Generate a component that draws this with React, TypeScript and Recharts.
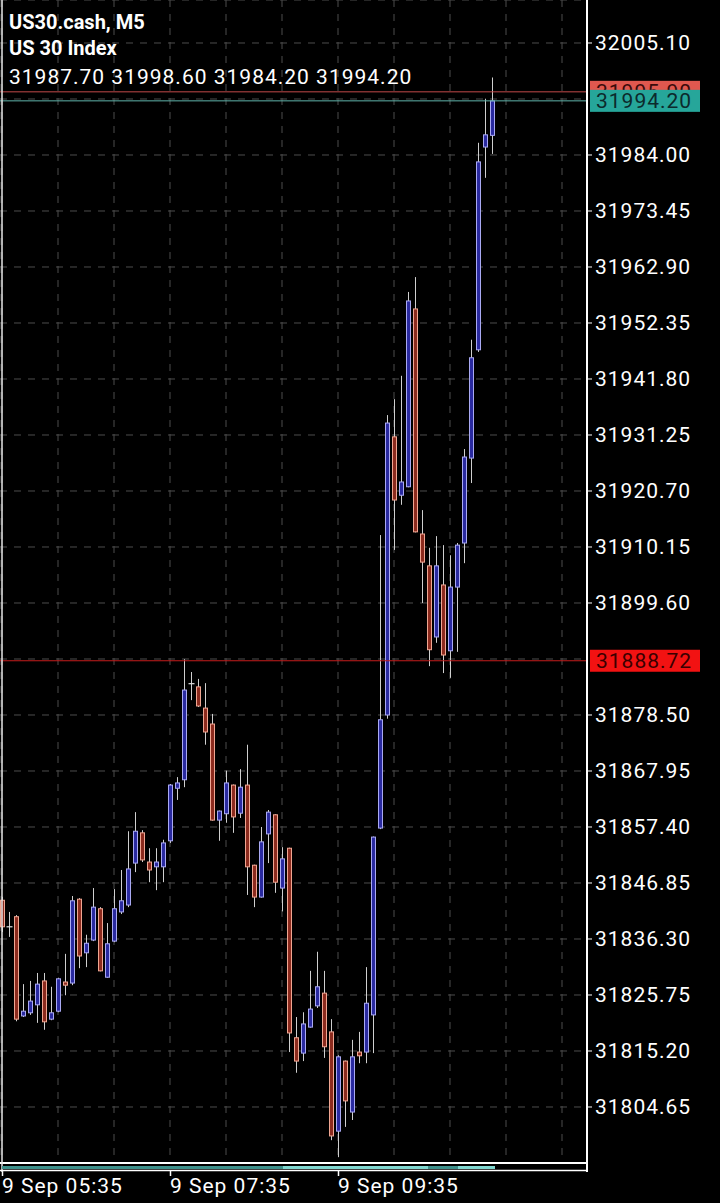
import React from "react";
import {
  ComposedChart,
  Bar,
  XAxis,
  YAxis,
  CartesianGrid,
  ReferenceLine,
} from "recharts";

// US30.cash M5 candles, 9 Sep 05:35 .. 11:25

const opens = [
  31843.6, 31838.4, 31840.5, 31821.8, 31822.4, 31823.9, 31828.4, 31821.2, 31822.7, 31828.2,
  31828.0, 31843.8, 31833.7, 31836.1, 31842.0, 31829.1, 31835.9, 31841.4, 31842.7, 31850.6,
  31856.3, 31850.8, 31849.9, 31849.9, 31854.8, 31864.7, 31866.3, 31884.2, 31883.8, 31879.8,
  31876.8, 31858.7, 31859.9, 31865.3, 31860.0, 31865.3, 31850.2, 31844.2, 31856.1, 31859.7,
  31845.9, 31853.4, 31817.7, 31814.8, 31819.7, 31823.7, 31826.1, 31818.8, 31800.1, 31813.3,
  31803.7, 31815.0, 31815.0, 31822.0, 31857.2, 31878.5, 31930.9, 31919.9, 31921.5, 31955.0,
  31912.6, 31906.6, 31893.2, 31903.0, 31890.6, 31902.6, 31910.9, 31926.9, 31947.3, 31985.5,
  31987.7,
];

const highs = [
  31844.2, 31841.4, 31840.8, 31827.8, 31828.4, 31829.9, 31829.9, 31827.3, 31829.0, 31833.5,
  31844.4, 31844.0, 31837.1, 31845.9, 31842.3, 31839.3, 31845.7, 31849.3, 31856.6, 31860.2,
  31856.8, 31853.4, 31853.4, 31855.0, 31865.5, 31866.8, 31889.0, 31886.6, 31885.3, 31884.5,
  31878.7, 31860.5, 31868.0, 31865.4, 31868.3, 31872.9, 31850.3, 31857.4, 31860.6, 31859.8,
  31853.6, 31853.5, 31821.6, 31822.5, 31830.3, 31833.9, 31830.3, 31821.2, 31814.4, 31813.4,
  31817.3, 31818.8, 31831.0, 31855.6, 31912.4, 31935.0, 31938.0, 31942.4, 31958.2, 31961.0,
  31917.1, 31910.0, 31912.2, 31910.5, 31908.6, 31910.9, 31928.6, 31949.2, 31986.3, 31994.6,
  31998.6,
];

const lows = [
  31837.6, 31836.7, 31820.8, 31821.6, 31822.0, 31820.5, 31819.2, 31821.0, 31822.5, 31825.7,
  31827.6, 31830.8, 31831.0, 31835.9, 31830.2, 31829.0, 31835.7, 31841.0, 31842.3, 31848.9,
  31850.8, 31847.0, 31845.5, 31847.0, 31854.4, 31862.5, 31864.9, 31881.3, 31880.0, 31872.9,
  31858.6, 31854.8, 31858.2, 31856.3, 31859.1, 31844.6, 31842.3, 31844.1, 31850.6, 31845.0,
  31841.5, 31815.0, 31811.1, 31813.3, 31819.6, 31823.3, 31813.9, 31798.4, 31795.2, 31800.9,
  31802.2, 31812.9, 31812.9, 31814.8, 31857.0, 31877.8, 31909.6, 31918.1, 31921.4, 31912.9,
  31899.6, 31887.7, 31892.1, 31886.4, 31885.5, 31890.4, 31907.1, 31922.2, 31946.9, 31979.7,
  31984.2,
];

const closes = [
  31838.6, 31838.6, 31821.2, 31822.7, 31824.6, 31827.8, 31820.7, 31822.4, 31828.8, 31827.6,
  31843.5, 31833.1, 31835.5, 31842.3, 31830.3, 31835.4, 31842.0, 31843.5, 31849.5, 31856.6,
  31851.2, 31849.3, 31850.8, 31854.4, 31865.3, 31865.7, 31883.2, 31884.4, 31880.2, 31875.3,
  31858.7, 31860.4, 31865.7, 31859.3, 31864.9, 31849.9, 31844.2, 31854.6, 31860.2, 31847.0,
  31851.4, 31818.6, 31813.3, 31820.3, 31823.1, 31827.3, 31816.0, 31799.2, 31814.1, 31805.8,
  31814.1, 31814.3, 31824.2, 31855.5, 31877.6, 31933.5, 31919.0, 31922.4, 31956.5, 31913.0,
  31907.3, 31890.8, 31906.6, 31889.8, 31902.6, 31910.5, 31927.1, 31945.8, 31982.7, 31987.8,
  31994.2,
];

const gridIdx = [0, 8, 16, 24, 32, 40, 48, 56, 64, 72, 80];
const timeIdx = [0, 24, 48];
const timeLabels = ["9 Sep 05:35", "9 Sep 07:35", "9 Sep 09:35"];

const priceTicks = [
  32005.1, 31994.55, 31984.0, 31973.45, 31962.9, 31952.35, 31941.8, 31931.25, 31920.7,
  31910.15, 31899.6, 31889.05, 31878.5, 31867.95, 31857.4, 31846.85, 31836.3, 31825.75,
  31815.2, 31804.65,
];
const hiddenTicks = [31994.55, 31889.05];

const askPrice = 31995.9;
const bidPrice = 31994.2;
const levelPrice = 31888.72;

const header = ["US30.cash, M5", "US 30 Index", "31987.70 31998.60 31984.20 31994.20"];

const candles = opens.map((o, i) => ({
  i,
  o,
  h: highs[i],
  l: lows[i],
  c: closes[i],
  range: [lows[i], highs[i]],
}));

const FONT = "Roboto, sans-serif";

const Candle = (props: any) => {
  const { x, y, width, height, payload } = props;
  if (payload == null || height == null) return <g />;
  const { o, h, l, c } = payload;
  const top0 = Math.min(y, y + height);
  const hgt = Math.abs(height);
  const k = hgt / (h - l);
  const yOf = (p: number) => top0 + (h - p) * k;
  const cx = Math.round(x + width / 2) + 0.5;
  const bTop = yOf(Math.max(o, c));
  const bBot = yOf(Math.min(o, c));
  const up = c >= o;

  return (
    <g>
      <line x1={cx} x2={cx} y1={top0} y2={top0 + hgt} stroke="#cfcfcf" strokeWidth={1} />
      {bBot - bTop < 2 ? (
        <line x1={cx - 3} x2={cx + 3} y1={bTop} y2={bTop} stroke="#e0e0e0" strokeWidth={1.2} />
      ) : (
        <rect
          x={cx - 2}
          y={bTop}
          width={4}
          height={bBot - bTop}
          fill={up ? "#2a2aa0" : "#8c2b1e"}
          stroke={up ? "#a9a9f2" : "#f0a692"}
          strokeWidth={1}
        />
      )}
    </g>
  );
};

const PriceTick = (props: any) => {
  const { x, y, payload } = props;
  const v = payload.value;
  if (hiddenTicks.some((t) => Math.abs(t - v) < 0.001)) return <g />;
  return (
    <g>
      <line x1={x - 8} x2={x - 3} y1={y} y2={y} stroke="#fff" strokeWidth={1} />
      <text x={x} y={y + 7.5} fill="#fff" fontSize={21} fontFamily={FONT} letterSpacing={1}>
        {v.toFixed(2)}
      </text>
    </g>
  );
};

const TimeTick = (props: any) => {
  const { x, y, payload } = props;
  const n = timeIdx.indexOf(payload.value);
  if (n < 0) return <g />;
  const tx = Math.round(x) + 0.5;
  return (
    <g>
      <line x1={tx} x2={tx} y1={y} y2={y + 5} stroke="#fff" strokeWidth={1.5} />
      <text x={x} y={y + 22} fill="#fff" fontSize={21} fontFamily={FONT} letterSpacing={1}>
        {timeLabels[n]}
      </text>
    </g>
  );
};

const PriceBox = (props: any) => {
  const { viewBox, price, fill, color } = props;
  const bx = viewBox.x + viewBox.width + 3;
  const by = viewBox.y;
  return (
    <g>
      <rect x={bx} y={by - 11} width={110} height={22} fill={fill} />
      <text x={bx + 6} y={by + 7.5} fill={color} fontSize={21} fontFamily={FONT} letterSpacing={1}>
        {price.toFixed(2)}
      </text>
    </g>
  );
};

export default function App() {
  return (
    <div
      style={{
        position: "absolute",
        left: 0,
        top: 0,
        width: 720,
        height: 1203,
        background: "#000",
        overflow: "hidden",
      }}
    >
      <ComposedChart
        width={720}
        height={1203}
        data={candles}
        margin={{ top: 0, right: 0, left: 0, bottom: 0 }}
      >
        <CartesianGrid stroke="#4d4d4d" strokeDasharray="7 7" />

        <XAxis
          type="number"
          dataKey="i"
          domain={[-2 / 7, 585 / 7]}
          allowDataOverflow
          ticks={gridIdx}
          interval={0}
          height={40}
          tickSize={8}
          tickMargin={0}
          tickLine={false}
          axisLine={{ stroke: "#fff", strokeWidth: 2 }}
          tick={TimeTick}
        />

        <YAxis
          orientation="right"
          width={133}
          domain={[31794.1, 32013.2]}
          allowDataOverflow
          ticks={priceTicks}
          interval={0}
          tickSize={5}
          tickMargin={3}
          tickLine={false}
          axisLine={{ stroke: "#fff", strokeWidth: 2 }}
          tick={PriceTick}
        />

        <Bar dataKey="range" barSize={5} shape={Candle} isAnimationActive={false} />

        <ReferenceLine
          y={levelPrice}
          stroke="#c41c1c"
          strokeWidth={1.2}
          label={<PriceBox price={levelPrice} fill="#f21212" color="#3a0000" />}
        />
        <ReferenceLine
          y={askPrice}
          stroke="#c24a4a"
          strokeWidth={1}
          label={<PriceBox price={askPrice} fill="#e0584f" color="#3a0a0a" />}
        />
        <ReferenceLine
          y={bidPrice}
          stroke="#5fb3aa"
          strokeWidth={1}
          label={<PriceBox price={bidPrice} fill="#26a69a" color="#0c2a2c" />}
        />
      </ComposedChart>

      {/* frame, scroll bar and header */}

      <svg
        width={720}
        height={1203}
        style={{ position: "absolute", left: 0, top: 0, pointerEvents: "none" }}
      >
        <line x1={2} x2={2} y1={0} y2={1172} stroke="#e6e6e6" strokeWidth={1.5} />
        <line x1={587} x2={587} y1={1160} y2={1172} stroke="#fff" strokeWidth={2} />
        <rect x={2} y={1166} width={493} height={3} fill="#3d8f8a" />
        <rect x={283} y={1166} width={145} height={3} fill="#7fd6cf" />
        <rect x={458} y={1166} width={37} height={3} fill="#7fd6cf" />
        <line x1={0} x2={588} y1={1170.5} y2={1170.5} stroke="#fff" strokeWidth={1.5} />

        <text x={9} y={29} fill="#fff" fontSize={20} fontWeight={700} fontFamily={FONT}>
          {header[0]}
        </text>
        <text x={9} y={55} fill="#fff" fontSize={20} fontWeight={700} fontFamily={FONT}>
          {header[1]}
        </text>
        <text x={9} y={84} fill="#fff" fontSize={21} fontFamily={FONT} letterSpacing={1}>
          {header[2]}
        </text>
      </svg>
    </div>
  );
}
